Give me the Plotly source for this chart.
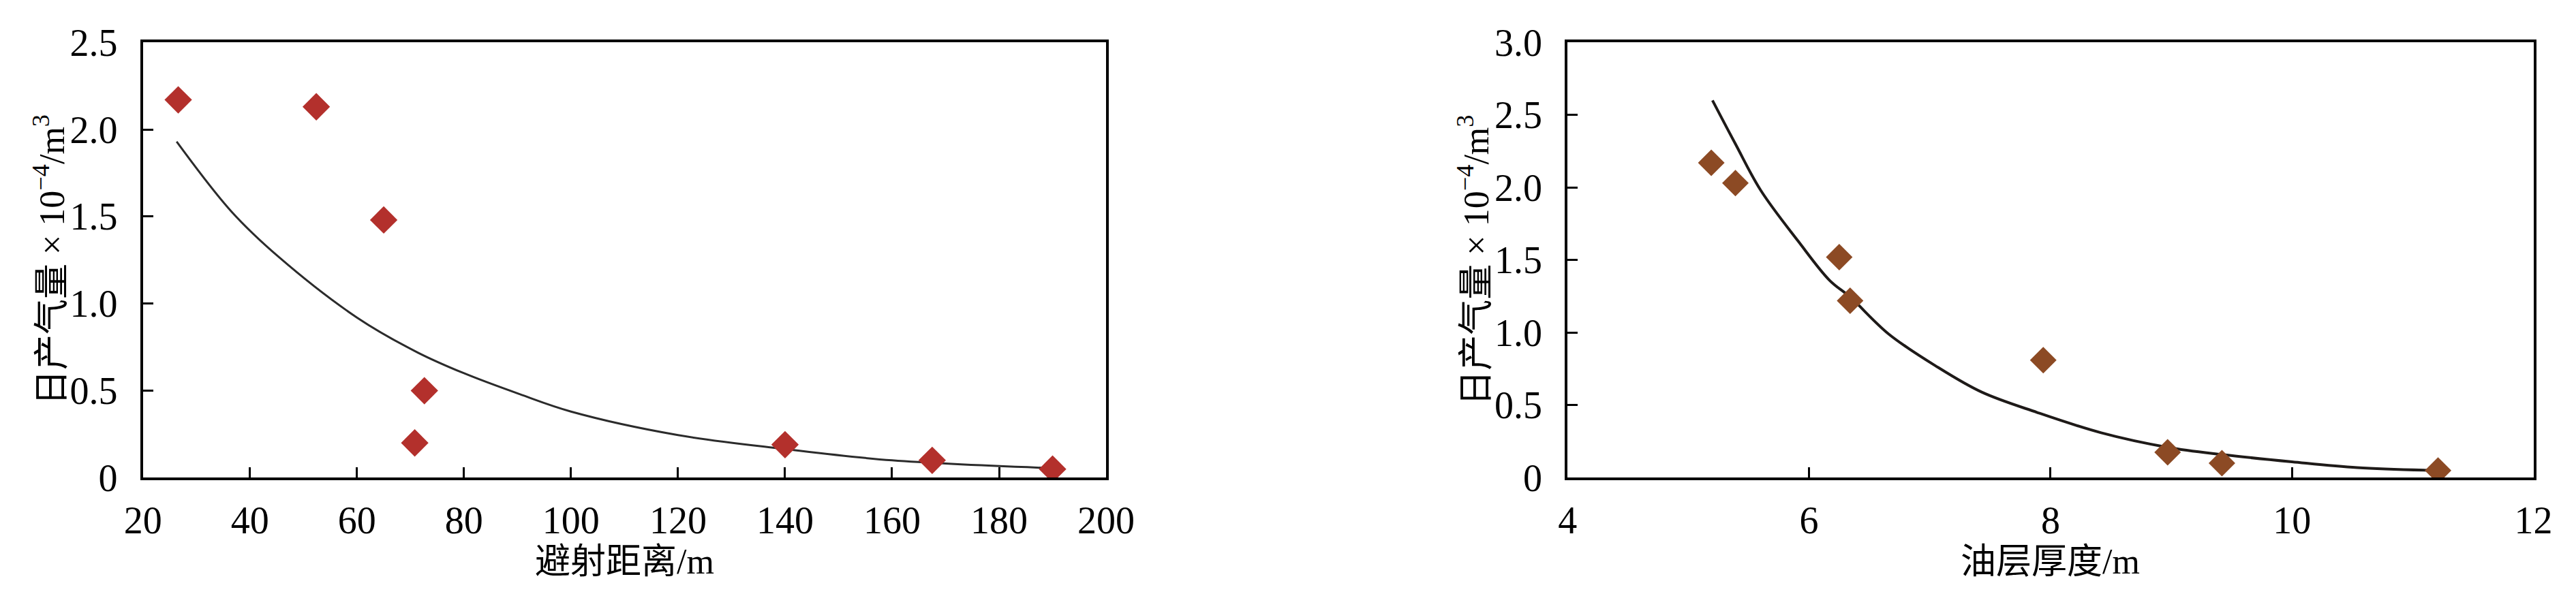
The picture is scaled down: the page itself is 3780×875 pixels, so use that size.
import plotly.graph_objects as go

# 左图：避射距离 vs 日产气量
dist_x = [26.6, 52.4, 65.0, 70.8, 72.6, 140, 167.5, 190]
dist_y = [2.17, 2.13, 1.48, 0.20, 0.50, 0.19, 0.10, 0.05]
dist_fit_x = [26.3, 36.5, 45.3, 60, 71.3, 80, 90.4, 100, 120, 140, 160, 190]
dist_fit_y = [1.93, 1.53, 1.27, 0.92, 0.72, 0.60, 0.48, 0.38, 0.245, 0.165, 0.10, 0.055]

# 右图：油层厚度 vs 日产气量
thick_x = [5.19, 5.39, 6.25, 6.34, 7.94, 8.97, 9.42, 11.21]
thick_y = [2.17, 2.03, 1.52, 1.22, 0.81, 0.175, 0.10, 0.05]
thick_fit_x = [5.2, 5.39, 5.6, 5.91, 6.17, 6.34, 6.66, 7.05, 7.43, 7.89, 8.42, 8.97, 9.42, 10, 10.54, 11.2]
thick_fit_y = [2.60, 2.30, 1.98, 1.63, 1.36, 1.245, 0.99, 0.77, 0.59, 0.45, 0.31, 0.21, 0.16, 0.11, 0.07, 0.05]

left_xticks = [20, 40, 60, 80, 100, 120, 140, 160, 180, 200]
left_yticks = [0, 0.5, 1.0, 1.5, 2.0, 2.5]
left_ytext = ['0', '0.5', '1.0', '1.5', '2.0', '2.5']
right_xticks = [4, 6, 8, 10, 12]
right_yticks = [0, 0.5, 1.0, 1.5, 2.0, 2.5, 3.0]
right_ytext = ['0', '0.5', '1.0', '1.5', '2.0', '2.5', '3.0']

W, H = 3780, 875
SERIF = 'Liberation Serif, Noto Sans CJK SC, serif'
Y_TITLE = '日产气量 × 10<sup>−4</sup>/m<sup>3</sup>'

fig = go.Figure()

fig.add_trace(go.Scatter(
    x=dist_fit_x, y=dist_fit_y, mode='lines', line_shape='spline',
    line=dict(color='#2b2b2b', width=3), xaxis='x', yaxis='y'
))
fig.add_trace(go.Scatter(
    x=dist_x, y=dist_y, mode='markers',
    marker=dict(symbol='diamond', size=31, color='#b3302c'), xaxis='x', yaxis='y'
))
fig.add_trace(go.Scatter(
    x=thick_fit_x, y=thick_fit_y, mode='lines', line_shape='spline',
    line=dict(color='#1e1a18', width=4), xaxis='x2', yaxis='y2'
))
fig.add_trace(go.Scatter(
    x=thick_x, y=thick_y, mode='markers',
    marker=dict(symbol='diamond', size=30, color='#8c4a24'), xaxis='x2', yaxis='y2'
))

axis_style = dict(
    showline=True, mirror=True, linecolor='black', linewidth=4,
    ticks='inside', ticklen=15, tickwidth=3, tickcolor='black',
    showgrid=False, zeroline=False, ticklabeloverflow='allow',
    tickfont=dict(family=SERIF, size=56, color='black'),
)

y0, y1 = (H - 714) / H, (H - 26) / H
fig.update_layout(
    width=W, height=H,
    margin=dict(l=0, r=0, t=0, b=0),
    paper_bgcolor='white', plot_bgcolor='white',
    showlegend=False,
    xaxis=dict(domain=[177 / W, 1617 / W], range=[20, 200], tickvals=left_xticks,
               ticklabelstandoff=10, **axis_style),
    yaxis=dict(domain=[y0, y1], range=[0, 2.5], tickvals=left_yticks, ticktext=left_ytext,
               ticklabelstandoff=22, **axis_style),
    xaxis2=dict(domain=[2307 / W, 3751 / W], range=[4, 12], tickvals=right_xticks,
                ticklabelstandoff=10, anchor='y2', **axis_style),
    yaxis2=dict(domain=[y0, y1], range=[0, 3], tickvals=right_yticks, ticktext=right_ytext,
                ticklabelstandoff=22, anchor='x2', **axis_style),
)

title_font = dict(family=SERIF, size=52, color='black')
ymid = (y0 + y1) / 2
for text, x in [('避射距离/m', 897), ('油层厚度/m', 3029)]:
    fig.add_annotation(text=text, x=x / W, y=0, xref='paper', yref='paper',
                       xanchor='center', yanchor='bottom', yshift=-4,
                       showarrow=False, font=title_font)
for x in [38, 2167]:
    fig.add_annotation(text=Y_TITLE, x=x / W, y=ymid, xref='paper', yref='paper',
                       xanchor='center', yanchor='middle', textangle=-90,
                       showarrow=False, font=title_font)

fig.write_html('out.html')
